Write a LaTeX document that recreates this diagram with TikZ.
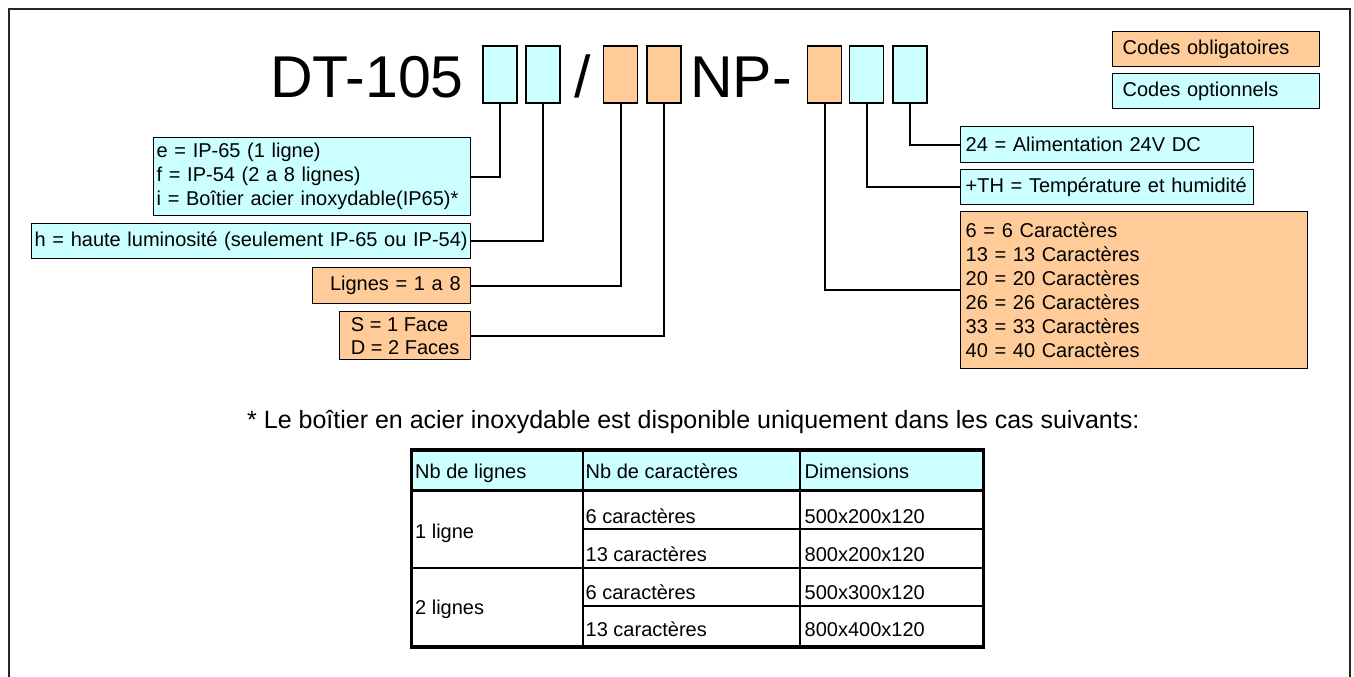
\documentclass[tikz,border=0pt]{standalone}
\usepackage{fontspec}
\setmainfont{Liberation Sans}
\definecolor{optcyan}{HTML}{CCFFFF}
\definecolor{oblorange}{HTML}{FFCC99}
\newcommand{\txtsize}{\fontsize{20}{24}\selectfont}
\begin{document}
\begin{tikzpicture}[x=1pt, y=-1pt,
    codebox/.style={draw, line width=1.3pt, minimum width=34pt, minimum height=57pt, inner sep=0pt},
    descbox/.style={draw, line width=1.3pt, anchor=north west, align=left, inner ysep=0pt, font=\txtsize},
    link/.style={line width=2pt},
    cell/.style={anchor=base west, inner sep=0pt, font=\txtsize}]
  \useasboundingbox (0,0) rectangle (1354,677);
  \draw[line width=2pt, black!85] (9,680) -- (9,9) -- (1350,9) -- (1350,680);

  \node[anchor=base west, inner sep=0pt, font=\fontsize{59}{60}\selectfont] (dt) at (270,97) {DT-105};
  \node[anchor=base west, inner sep=0pt, font=\fontsize{59}{60}\selectfont] (slash) at (574,97) {/};
  \node[anchor=base west, inner sep=0pt, font=\fontsize{59}{60}\selectfont] (np) at (690,97) {NP-};
  \foreach \x/\c [count=\i] in {500/optcyan, 543/optcyan, 620.5/oblorange, 664/oblorange,
                                824.5/oblorange, 866.5/optcyan, 910/optcyan}
    {
      \node[codebox, fill=\c] (c\i) at (\x,74.5) {};
    }

  \node[descbox, fill=oblorange, inner xsep=10pt, text width=187pt, minimum height=35pt] (lob) at (1112,31) {Codes obligatoires};
  \node[descbox, fill=optcyan, inner xsep=10pt, text width=187pt, minimum height=35pt] (lop) at (1112,73) {Codes optionnels};

  \node[descbox, fill=optcyan, inner xsep=3pt, text width=311pt, minimum height=78pt] (ef) at (153,137)
    {e = IP-65 (1 ligne)\\f = IP-54 (2 a 8 lignes)\\i = Boîtier acier inoxydable(IP65)*};
  \node[descbox, fill=optcyan, inner xsep=3pt, text width=433pt, minimum height=35pt] (haute) at (31,223)
    {h = haute luminosité (seulement IP-65 ou IP-54)};
  \node[descbox, fill=oblorange, align=right, inner xsep=10pt, text width=138pt, minimum height=36pt] (lig) at (312,267)
    {Lignes = 1 a 8};
  \node[descbox, fill=oblorange, minimum width=131pt, minimum height=48pt,
        font=\fontsize{20}{23}\selectfont] (sd) at (339,311)
    {S = 1 Face\\D = 2 Faces};

  \node[descbox, fill=optcyan, inner xsep=5pt, text width=283pt, minimum height=36pt] (alim) at (960,126)
    {24 = Alimentation 24V DC};
  \node[descbox, fill=optcyan, inner xsep=5pt, text width=283pt, minimum height=35pt] (th) at (960,169)
    {+TH = Température et humidité};
  \node[descbox, fill=oblorange, inner xsep=5pt, text width=337pt, minimum height=157pt] (car) at (960,211)
    {6 = 6 Caractères\\13 = 13 Caractères\\20 = 20 Caractères\\26 = 26 Caractères\\33 = 33 Caractères\\40 = 40 Caractères};

  \draw[link] (c1.south) |- (ef.east);
  \draw[link] (c2.south) |- (haute.east);
  \draw[link] (c3.south) |- (lig.east);
  \draw[link] (c4.south) |- (sd.east);
  \draw[link] (c5.south) |- (car.west);
  \draw[link] (c6.south) |- (th.west);
  \draw[link] (c7.south) |- (alim.west);

  \node[anchor=base west, inner sep=0pt, font=\fontsize{25}{30}\selectfont] (note) at (247,428)
    {* Le boîtier en acier inoxydable est disponible uniquement dans les cas suivants:};

  \fill[optcyan] (411.5,450) rectangle (983.5,490);
  \draw[line width=1.5pt] (583,529) -- (983.5,529) (411.5,568) -- (983.5,568) (583,606) -- (983.5,606);
  \draw[line width=2.5pt] (583,450) -- (583,647) (800,450) -- (800,647);
  \draw[line width=3pt] (411.5,490) -- (983.5,490);
  \draw[line width=3.5pt] (411.5,450) rectangle (983.5,647);
  \foreach \x/\t [count=\i] in {415/Nb de lignes, 585.5/Nb de caractères, 804.5/Dimensions}
    {
      \node[cell] (head\i) at (\x,478) {\t};
    }
  \foreach \y/\nbc/\dims [count=\i] in {523/6/500x200x120, 561/13/800x200x120, 599/6/500x300x120, 636/13/800x400x120}
    {
      \node[cell] (nb\i) at (585.5,\y) {\nbc\ caractères};
      \node[cell] (dims\i) at (804.5,\y) {\dims};
    }
  \node[cell] (lig1) at (415,538) {1 ligne};
  \node[cell] (lig2) at (415,614) {2 lignes};
\end{tikzpicture}
\end{document}
